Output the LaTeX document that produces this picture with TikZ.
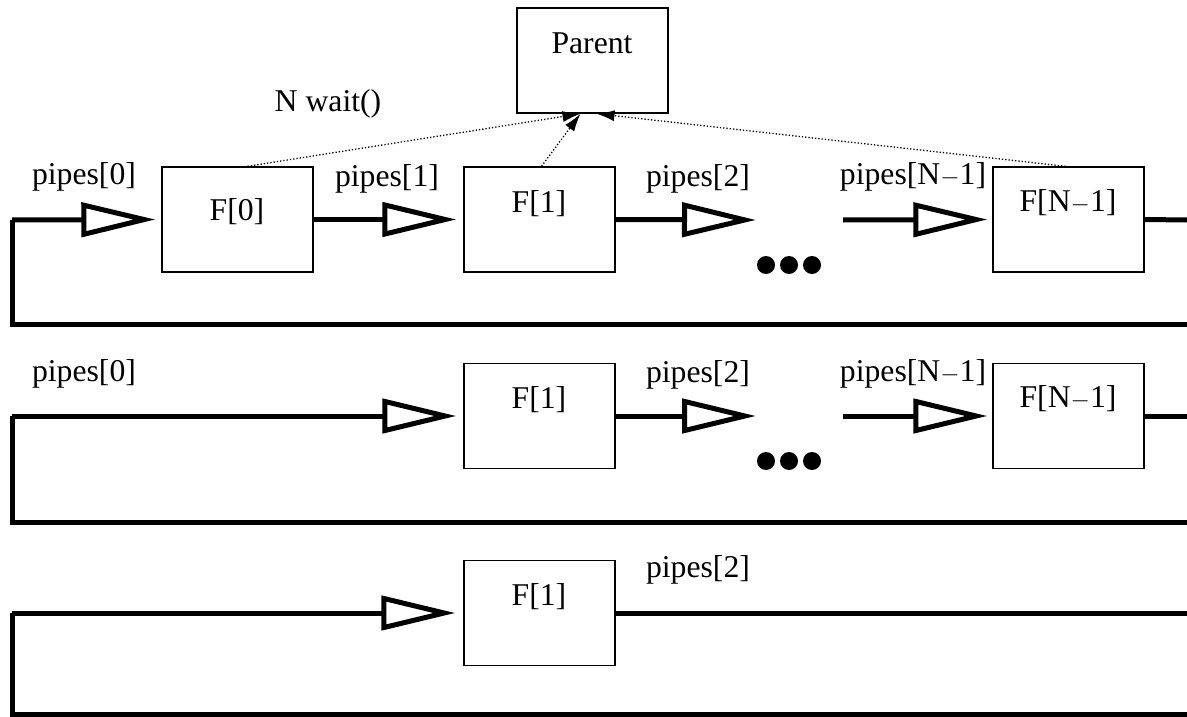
\documentclass[tikz,border=0pt]{standalone}
\usepackage{fontspec}
\setmainfont{Liberation Serif}
\usetikzlibrary{arrows.meta}

\begin{document}
\begin{tikzpicture}[x=1pt,y=-1pt,
  font=\fontsize{31.7}{38}\selectfont,
  procbox/.style={draw, line width=1.4pt, minimum width=151pt, minimum height=105pt, inner sep=0pt},
  lbl/.style={anchor=base, inner sep=0pt},
  pipe/.style={line width=5pt},
  pipetip/.style={pipe, -{Triangle[open, length=74pt, width=34pt, line width=5pt]}},
  waitline/.style={dotted, line width=1.3pt, -{Latex[length=18pt, width=11pt]}},
  bigdot/.style={circle, fill, inner sep=0pt, minimum size=18pt}]
\useasboundingbox (0,0) rectangle (1187,717);

% parent process
\node[procbox] (parent) at (592.5,60.5) {};
\node[lbl] (parentlbl) at (592,54) {Parent};
\node[lbl] (waitlbl) at (328,112) {N wait()};

% ---------- first ring: all children ----------
\node[procbox] (f0) at (237.5,219.5) {};
\node[procbox] (f1) at (539.5,219.5) {};
\node[procbox] (fn) at (1068.5,219.5) {};
\node[lbl] (f0lbl) at (237,220) {F[0]};
\node[lbl] (f1lbl) at (539,212) {F[1]};
\node[lbl] (fnlbl) at (1068,211) {F[N$-$1]};

\node[lbl] (p0a) at (84,184) {pipes[0]};
\node[lbl] (p1a) at (387,186) {pipes[1]};
\node[lbl] (p2a) at (698,186) {pipes[2]};
\node[lbl] (pna) at (913,184) {pipes[N$-$1]};

\coordinate (ra) at (1187,220);
\coordinate (rb) at (1187,324);
\coordinate (la) at (12,220);
\coordinate (lb) at (12,324);
\coordinate (gapa) at (756,220);
\coordinate (gapb) at (843,220);

\draw[pipe] (rb) -- (lb) -- (la);
\draw[pipetip] (la) -- ([xshift=-6pt]f0.west);
\draw[pipetip] (f0.east) -- ([xshift=-7pt]f1.west);
\draw[pipetip] (f1.east) -- (gapa);
\draw[pipetip] (gapb) -- ([xshift=-5pt]fn.west);
\draw[pipe] (fn.east) -- (ra);

\node[bigdot] (da1) at (766,265) {};
\node[bigdot] (da2) at (789,265) {};
\node[bigdot] (da3) at (812,265) {};

% children waited for by the parent
\draw[waitline] ([xshift=10pt]f0.north) -- ([xshift=-12pt]parent.south);
\draw[waitline] ([xshift=2pt]f1.north) -- ([xshift=-12pt]parent.south);
\draw[waitline] ([xshift=-3pt]fn.north) -- ([xshift=4pt]parent.south);

% ---------- second ring: F[0] gone ----------
\node[procbox] (g1) at (539.5,416) {};
\node[procbox] (gn) at (1068.5,416) {};
\node[lbl] (g1lbl) at (539,408) {F[1]};
\node[lbl] (gnlbl) at (1068,407) {F[N$-$1]};

\node[lbl] (p0b) at (84,381) {pipes[0]};
\node[lbl] (p2b) at (698,382) {pipes[2]};
\node[lbl] (pnb) at (913,381) {pipes[N$-$1]};

\coordinate (rc) at (1187,416);
\coordinate (rd) at (1187,522);
\coordinate (lc) at (12,416);
\coordinate (ld) at (12,522);
\coordinate (gapc) at (756,416);
\coordinate (gapd) at (843,416);

\draw[pipe] (rd) -- (ld) -- (lc);
\draw[pipetip] (lc) -- ([xshift=-7pt]g1.west);
\draw[pipetip] (g1.east) -- (gapc);
\draw[pipetip] (gapd) -- ([xshift=-5pt]gn.west);
\draw[pipe] (gn.east) -- (rc);

\node[bigdot] (db1) at (766,461) {};
\node[bigdot] (db2) at (789,461) {};
\node[bigdot] (db3) at (812,461) {};

% ---------- third ring: only F[1] ----------
\node[procbox] (h1) at (539.5,613) {};
\node[lbl] (h1lbl) at (539,605) {F[1]};
\node[lbl] (p2c) at (698,577) {pipes[2]};

\coordinate (re) at (1187,613);
\coordinate (rf) at (1187,714);
\coordinate (le) at (12,613);
\coordinate (lf) at (12,714);

\draw[pipe] (rf) -- (lf) -- (le);
\draw[pipetip] (le) -- ([xshift=-8pt]h1.west);
\draw[pipe] (h1.east) -- (re);
\end{tikzpicture}
\end{document}
